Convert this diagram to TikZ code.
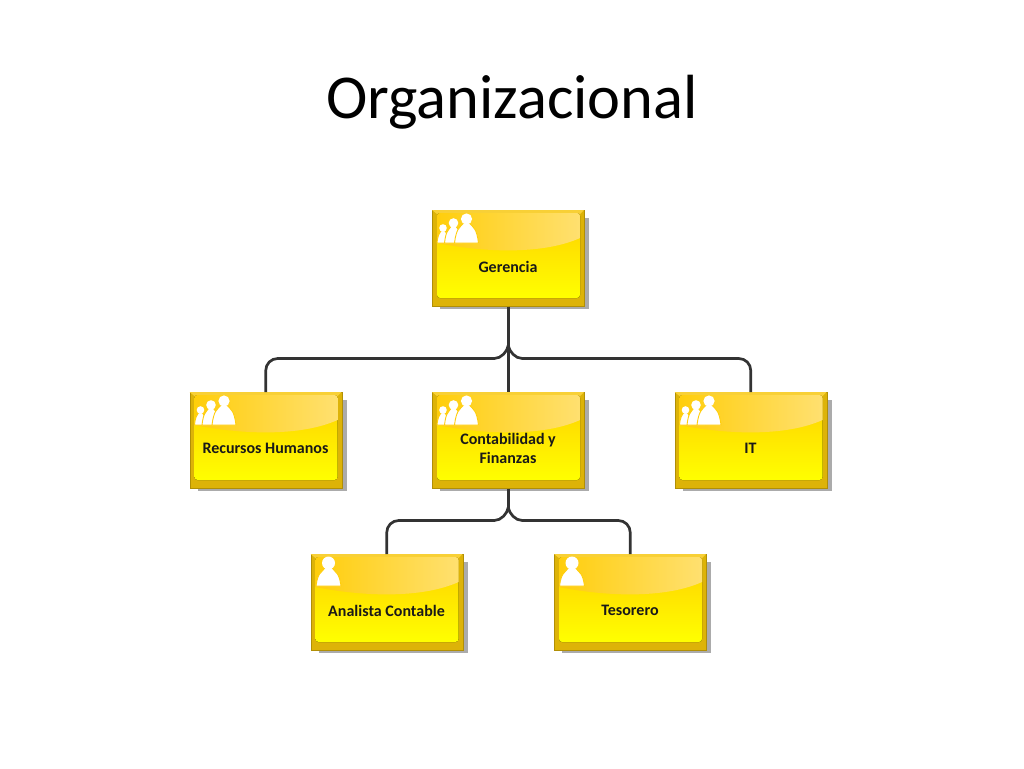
\documentclass[tikz,border=0pt]{standalone}
\usepackage{fontspec}
\setmainfont{Carlito}
\usetikzlibrary{calc}
\definecolor{shadowc}{HTML}{ABABAB}
\definecolor{rimdark}{HTML}{DDB308}
\definecolor{rimtop}{HTML}{F8D036}
\definecolor{facetop}{HTML}{FFD000}
\definecolor{facebot}{HTML}{FFFF00}
\definecolor{glossl}{HTML}{FFCE0C}
\definecolor{glossr}{HTML}{FFE070}
\definecolor{linec}{HTML}{333333}
\tikzset{
  orgouter/.style={rectangle,minimum width=152pt,minimum height=96pt,inner sep=0pt,fill=rimdark,draw=rimdark!80!black,line width=.5pt,anchor=north west},
  orglabel/.style={font=\fontsize{16}{19}\selectfont\bfseries,text=black!90,align=center,inner sep=0pt},
  conn/.style={draw=linec,line width=2.7pt},
  figbody/.style={fill=white,draw=glossl,line width=.9pt},
}
% person: cx, head y, head r, half width, bottom
\newcommand\orgperson[5]{%
  \path[figbody] ({#1-#4},#5) .. controls ({#1-.85*#4},{#5-.6*(#5-#2)}) and ({#1-.6*#4},{#2+1.6*#3}) .. ({#1-.5*#3},{#2+.7*#3})
     -- ({#1+.5*#3},{#2+.7*#3}) .. controls ({#1+.6*#4},{#2+1.6*#3}) and ({#1+.85*#4},{#5-.6*(#5-#2)}) .. ({#1+#4},#5) -- cycle;
  \fill[white] (#1,#2) circle[radius=#3];
}
\newcommand\iconmany{\orgperson{11}{18}{3.8}{6}{33}\orgperson{21.5}{13}{4.8}{9}{33}\orgperson{34.5}{9}{5.6}{12}{33}}
\newcommand\iconone{\orgperson{18}{9}{6.5}{12.5}{32}}
% name, left, top, icon, text y, text
\newcommand\orgbox[6]{%
  \begin{scope}[shift={(#2,#3)}]
    \fill[shadowc] (8,8) rectangle (157,99);
    \node[orgouter,name=#1] at (0,0) {};
    \fill[rimtop] (0,0) -- (152,0) -- (148,4) -- (5,4) -- cycle;
    \fill[top color=facetop,bottom color=facebot,rounded corners=3pt] (5,3) rectangle (148,88);
    \begin{scope}
      \clip[rounded corners=3pt] (5,3) rectangle (148,88);
      \path[left color=glossl,right color=glossr] (5,3) -- (148,3) -- (148,28) .. controls (115,43) and (60,44) .. (5,33) -- cycle;
    \end{scope}
    #4
    \node[orglabel,name=#1t] at (76,#5) {\vphantom{Ay}#6};
  \end{scope}
}
\begin{document}
\begin{tikzpicture}[x=1pt,y=-1pt]
\useasboundingbox (0,0) rectangle (1024,768);
\node[font=\fontsize{62.4}{72}\selectfont,text=black,inner sep=0pt,name=title] at (512,102) {Organizacional};
\orgbox{ger}{432}{210}{\iconmany}{58}{Gerencia}
\orgbox{rh}{189.5}{392}{\iconmany}{58}{Recursos Humanos}
\orgbox{con}{432}{392}{\iconmany}{56.5}{Contabilidad y\\Finanzas}
\orgbox{it}{674.5}{392}{\iconmany}{58}{IT}
\orgbox{ana}{310.5}{554}{\iconone}{58}{Analista Contable}
\orgbox{tes}{554}{554}{\iconone}{58}{Tesorero}
% connectors
\coordinate (jt) at ($(ger.south)+(0,39)$);
\coordinate (jl) at ($(jt)+(-14,13)$);
\coordinate (jr) at ($(jt)+(14,13)$);
\draw[conn] (ger.south) -- (con.north);
\draw[conn] (jt) .. controls +(-1,6) and +(7,0) .. (jl) [rounded corners=12pt] -- (jl -| rh.north) -- (rh.north);
\draw[conn] (jt) .. controls +(1,6) and +(-7,0) .. (jr) [rounded corners=12pt] -- (jr -| it.north) -- (it.north);
\coordinate (kt) at ($(con.south)+(0,19)$);
\coordinate (kl) at ($(kt)+(-14,13)$);
\coordinate (kr) at ($(kt)+(14,13)$);
\draw[conn] (con.south) -- (kt);
\draw[conn] (kt) .. controls +(-1,6) and +(7,0) .. (kl) [rounded corners=12pt] -- (kl -| ana.north) -- (ana.north);
\draw[conn] (kt) .. controls +(1,6) and +(-7,0) .. (kr) [rounded corners=12pt] -- (kr -| tes.north) -- (tes.north);
\end{tikzpicture}
\end{document}
